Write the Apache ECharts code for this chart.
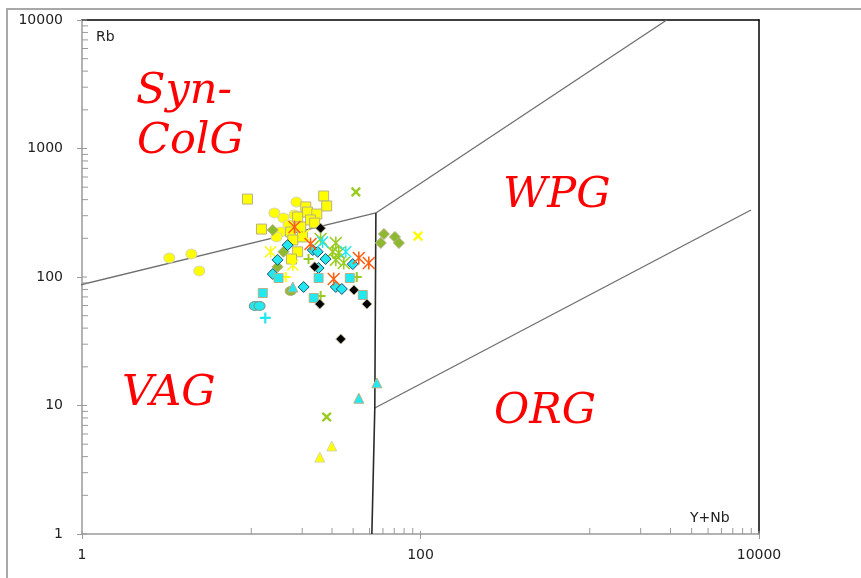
<!DOCTYPE html>
<html>
<head>
<meta charset="utf-8">
<script src="https://cdn.jsdelivr.net/npm/echarts@6/dist/echarts.min.js"></script>
<style>
html, body { margin: 0; padding: 0; background: #ffffff; }
#chart { width: 861px; height: 578px; }
</style>
</head>
<body>
<div id="chart"></div>
<script>
// ---- Samples: [Y+Nb, Rb] in ppm ----
const yellowCircle = [[3.28,140.6],[4.43,151],[4.93,111.4],[13.7,315],[18.5,383],[15.5,288],[18.0,304],[16.6,254],[14.9,224],[14.1,205]];
const yellowSquare = [[9.5,404],[26.8,427],[27.9,357],[21.0,351],[21.5,320],[24.4,309],[18.8,293],[22.4,278],[23.7,263],[19.6,245],[11.5,236],[17.1,224],[20.1,205],[17.6,194],[18.8,157],[17.3,138]];
const yellowTriangle = [[25.4,3.97],[29.9,4.84]];
const yellowCross = [[96.7,208]];
const yellowStar = [[13.0,157],[17.6,124],[20.4,212]];
const yellowPlus = [[16.0,100]];
const greenDiamond = [[60.8,216],[58.3,184],[70.6,205],[74.6,184],[13.4,232],[15.5,157],[14.3,120]];
const greenCross = [[41.5,459],[27.9,8.14]];
const greenStar = [[25.7,198],[31.6,184],[30.3,157],[32.9,154],[31.6,136],[35.2,128.5]];
const greenPlus = [[21.8,138],[25.7,71.1],[42.0,100]];
const greenCircle = [[17.1,77.8]];
const cyanDiamond = [[16.4,177],[23.1,162],[24.7,157],[27.5,138],[14.3,136],[39.8,126],[25.0,117.5],[13.4,105.5],[20.4,83.6],[31.6,83.6],[34.3,80.7]];
const cyanSquare = [[14.5,98.2],[25.0,98.2],[38.2,98.2],[11.7,75.1],[23.4,68.7],[45.6,72.4]];
const cyanTriangle = [[17.6,83.6],[43.2,11.4],[55.2,15.0]];
const cyanCircle = [[10.5,59.5],[11.2,59.5]];
const cyanPlus = [[12.1,48.0]];
const cyanStar = [[26.4,187],[36.2,157]];
const blackDiamond = [[25.7,240],[23.7,120],[40.4,79.2],[25.4,61.6],[48.2,61.6],[33.8,32.9]];
const orangeStar = [[22.4,181],[43.2,140.6],[49.5,128.5],[30.7,96.5],[18.0,245]];

// ---- Discrimination boundaries (Y+Nb, Rb) ----
const lineVagSyn = [[0.872,83.6],[54.5,315]];
const lineSynWpg = [[54.5,315],[2850,10000]];
const lineVertical = [[54.5,315],[53.7,9.56],[51.6,1]];
const lineWpgOrg = [[53.7,9.56],[8970,332]];

// ---- Axis ticks ----
const xMajorTicks = [1, 100, 10000];
const xMinorTicks = [10,20,30,40,50,60,70,80,90,1000,2000,3000,4000,5000,6000,7000,8000,9000];
const yMajorTicks = [1, 10, 100, 1000, 10000];
const yMinorTicks = [];
[1, 10, 100, 1000].forEach(function (d) {
  for (let k = 2; k <= 9; k++) yMinorTicks.push(k * d);
});

// ---- Field names ----
const fieldNames = ['Syn-', 'ColG', 'WPG', 'VAG', 'ORG'];

const PLUS = 'path://M4,0H6V4H10V6H6V10H4V6H0V4H4Z';
const STAR = 'path://M4.4,0H5.6V10H4.4Z M0,0.85L0.85,0L10,9.15L9.15,10Z M9.15,0L10,0.85L0.85,10L0,9.15Z';

const YELLOW = '#FFFF00', GREEN = '#99CC22', CYAN = '#22E8F0', ORANGE = '#FF6010';
const TAN = '#B8B088';

function scatter(data, symbol, size, color, border, rotate) {
  return {
    type: 'scatter', data: data, symbol: symbol, symbolSize: size,
    symbolRotate: rotate || 0,
    itemStyle: { color: color, borderColor: border || color, borderWidth: border ? 1 : 0, opacity: 1 },
    animation: false, silent: true, z: 5
  };
}

function boundary(data, color, width) {
  return {
    type: 'line', data: data, symbol: 'none', clip: false,
    lineStyle: { color: color, width: width }, animation: false, silent: true, z: 3
  };
}

function ticks(data, dx, dy) {
  return {
    type: 'custom', data: data, silent: true, animation: false, clip: false, z: 4,
    renderItem: function (params, api) {
      const p = api.coord([api.value(0), api.value(1)]);
      return {
        type: 'line',
        shape: { x1: p[0], y1: p[1], x2: p[0] + dx, y2: p[1] + dy },
        style: { stroke: '#9a9a9a', lineWidth: 1 }
      };
    }
  };
}

const chart = echarts.init(document.getElementById('chart'), null, { renderer: 'canvas' });

const labelStyle = { color: '#222222', fontFamily: 'DejaVu Sans', fontSize: 14 };
const fieldFont = { fill: '#FF0000', font: 'italic 43px "DejaVu Serif"' };

chart.setOption({
  backgroundColor: '#ffffff',
  animation: false,
  grid: { left: 82, top: 20, right: 102, bottom: 44, containLabel: false },
  xAxis: [
    {
      type: 'log', logBase: 100, min: 1, max: 10000,
      axisLine: { lineStyle: { color: '#9a9a9a', width: 1.5 } },
      axisTick: { show: true, length: 5, lineStyle: { color: '#9a9a9a' } },
      axisLabel: Object.assign({ margin: 14, formatter: function (v) { return String(Math.round(v)); } }, labelStyle),
      splitLine: { show: false }
    },
    {
      type: 'log', logBase: 100, min: 1, max: 10000, position: 'top',
      axisLine: { lineStyle: { color: '#000000', width: 1.5 } },
      axisTick: { show: false }, axisLabel: { show: false }, splitLine: { show: false }
    }
  ],
  yAxis: [
    {
      type: 'log', logBase: 10, min: 1, max: 10000,
      axisLine: { lineStyle: { color: '#9a9a9a', width: 1.5 } },
      axisTick: { show: true, length: 5, lineStyle: { color: '#9a9a9a' } },
      axisLabel: Object.assign({ margin: 19, formatter: function (v) { return String(Math.round(v)); } }, labelStyle),
      splitLine: { show: false }
    },
    {
      type: 'log', logBase: 10, min: 1, max: 10000, position: 'right',
      axisLine: { lineStyle: { color: '#000000', width: 1.5 } },
      axisTick: { show: false }, axisLabel: { show: false }, splitLine: { show: false }
    }
  ],
  graphic: [
    { type: 'polyline', shape: { points: [[7, 578], [7, 9], [861, 9]] }, style: { stroke: '#a8a8a8', lineWidth: 2, fill: null }, silent: true },
    { type: 'text', left: 96, top: 30, style: { text: 'Rb', fill: '#222222', font: '14px "DejaVu Sans"' }, silent: true },
    { type: 'text', left: 690, top: 511, style: { text: 'Y+Nb', fill: '#222222', font: '14px "DejaVu Sans"' }, silent: true },
    { type: 'text', left: 136, top: 70, style: Object.assign({ text: fieldNames[0] }, fieldFont), silent: true },
    { type: 'text', left: 137, top: 120, style: Object.assign({ text: fieldNames[1] }, fieldFont), silent: true },
    { type: 'text', left: 503, top: 174, style: Object.assign({ text: fieldNames[2] }, fieldFont), silent: true },
    { type: 'text', left: 122, top: 372, style: Object.assign({ text: fieldNames[3] }, fieldFont), silent: true },
    { type: 'text', left: 494, top: 390, style: Object.assign({ text: fieldNames[4] }, fieldFont), silent: true }
  ],
  series: [
    ticks(xMajorTicks.map(function (v) { return [v, 1]; }), 0, -3),
    ticks(xMinorTicks.map(function (v) { return [v, 1]; }), 0, -6),
    ticks(yMajorTicks.map(function (v) { return [1, v]; }), 5, 0),
    ticks(yMinorTicks.map(function (v) { return [1, v]; }), 6, 0),

    boundary(lineVagSyn, '#6e6e6e', 1.3),
    boundary(lineSynWpg, '#6e6e6e', 1.3),
    boundary(lineWpgOrg, '#6e6e6e', 1.3),
    boundary(lineVertical, '#2a2a2a', 1.6),

    scatter(yellowCircle, 'circle', [11, 10], YELLOW, '#D8D8B0'),
    scatter(yellowSquare, 'rect', 10, YELLOW, TAN),
    scatter(yellowTriangle, 'triangle', 10, YELLOW, '#D8D8B0'),
    scatter(yellowCross, PLUS, 12, YELLOW, null, 45),
    scatter(yellowStar, STAR, 12, YELLOW),
    scatter(yellowPlus, PLUS, 10, YELLOW),
    scatter(greenDiamond, 'diamond', 11, '#8DB92E', TAN),
    scatter(greenCross, PLUS, 12, GREEN, null, 45),
    scatter(greenStar, STAR, 13, GREEN),
    scatter(greenPlus, PLUS, 10, GREEN),
    scatter(greenCircle, 'circle', [11, 9], '#8DB92E', TAN),
    scatter(cyanDiamond, 'diamond', 11, CYAN, '#1f4f6f'),
    scatter(cyanSquare, 'rect', 9, CYAN, TAN),
    scatter(cyanTriangle, 'triangle', 10, CYAN, TAN),
    scatter(cyanCircle, 'circle', [11, 9], CYAN, '#7a9a8a'),
    scatter(cyanPlus, PLUS, 11, CYAN),
    scatter(cyanStar, STAR, 12, CYAN),
    scatter(blackDiamond, 'diamond', 10, '#000000', TAN),
    scatter(orangeStar, STAR, 13, ORANGE)
  ]
});
</script>
</body>
</html>
